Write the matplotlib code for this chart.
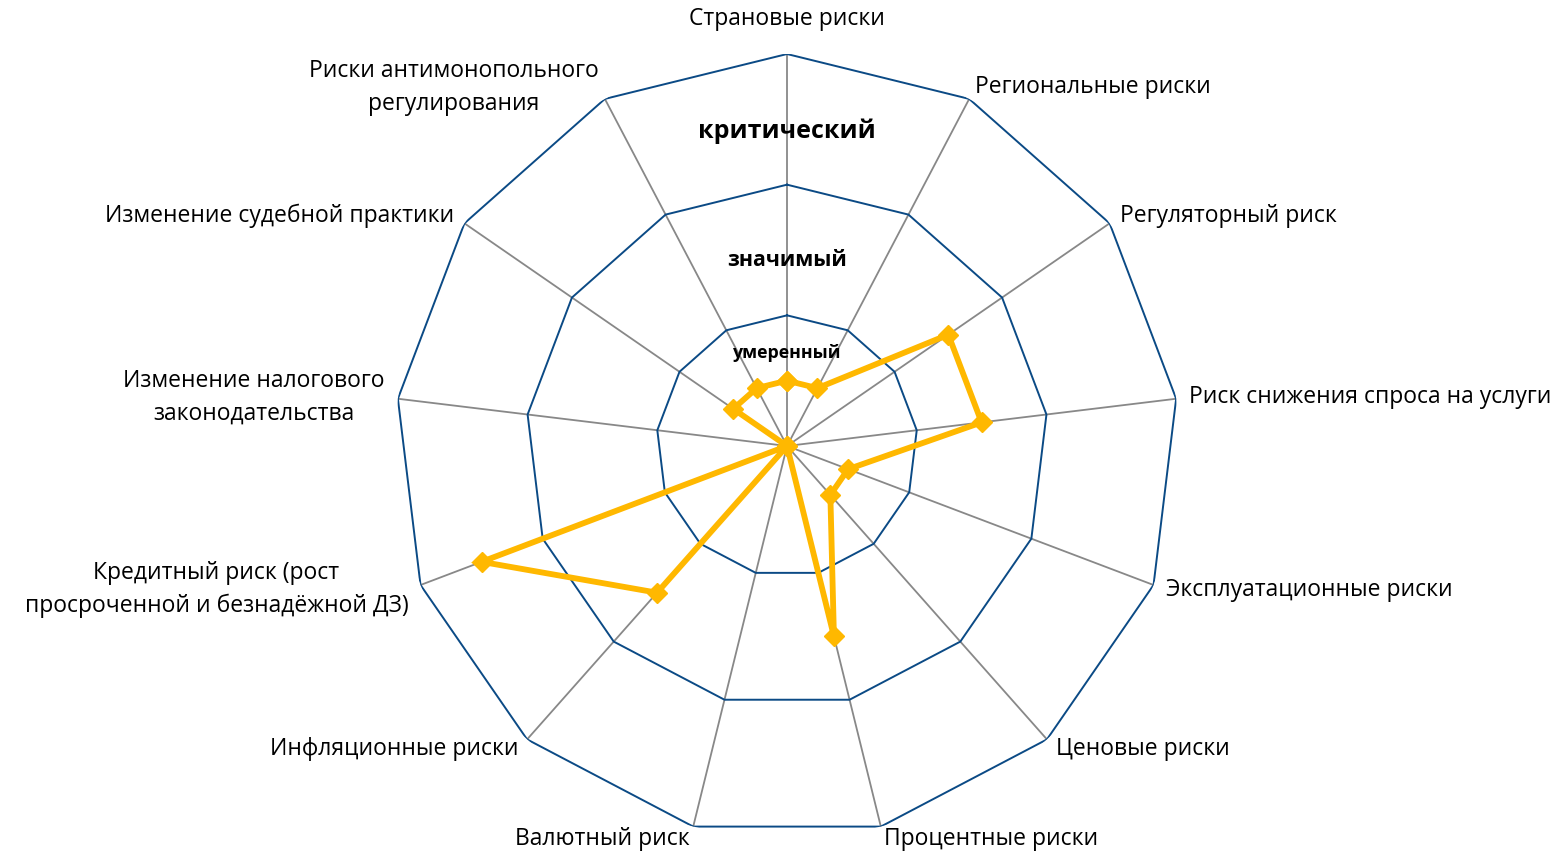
import numpy as np
import matplotlib
matplotlib.use("Agg")
import matplotlib.pyplot as plt

plt.rcParams['font.family'] = ['Open Sans', 'DejaVu Sans']

categories = [
    'Страновые риски',
    'Региональные риски',
    'Регуляторный риск',
    'Риск снижения спроса на услуги',
    'Эксплуатационные риски',
    'Ценовые риски',
    'Процентные риски',
    'Валютный риск',
    'Инфляционные риски',
    'Кредитный риск (рост\nпросроченной и безнадёжной ДЗ)',
    'Изменение налогового\nзаконодательства',
    'Изменение судебной практики',
    'Риски антимонопольного\nрегулирования',
]
values = [0.5, 0.5, 1.5, 1.5, 0.5, 0.5, 1.5, 0, 1.5, 2.5, 0, 0.5, 0.5]
levels = [1, 2, 3]
level_names = ['умеренный', 'значимый', 'критический']

n = len(categories)
theta = np.arange(n) * 2 * np.pi / n

fig = plt.figure(figsize=(15.67, 8.6), dpi=100)
ax = fig.add_axes([0.2521, 0.0256, 0.5003, 0.9116], projection='polar')
ax.set_theta_offset(np.pi / 2)
ax.set_theta_direction(-1)
ax.set_ylim(0, 3)
ax.axis('off')

# spokes
for t in theta:
    ax.plot([t, t], [0, 3], color='#888888', lw=1.3, zorder=1)
# polygon rings
tc = np.append(theta, theta[0])
for lv in levels:
    ax.plot(tc, [lv] * (n + 1), color='#0B4A85', lw=1.4, zorder=2)

# data
vc = values + values[:1]
ax.plot(tc, vc, color='#FFB800', lw=4.2, marker='D', markersize=10,
        markeredgecolor='#FFB800', zorder=5, solid_joinstyle='miter')

# category labels
for i, (t, lab) in enumerate(zip(theta, categories)):
    if i == 0:
        ax.text(t, 3.27, lab, ha='center', va='center', fontsize=16.5)
        continue
    ha = 'left' if np.sin(t) > 0 else 'right'
    ax.text(t, 3.1, lab, ha=ha, va='center', fontsize=16.5,
            multialignment='center', linespacing=1.5)

# level names
ax.text(0, 0.71, level_names[0], ha='center', va='center', fontsize=12.8, fontweight='bold')
ax.text(0, 1.42, level_names[1], ha='center', va='center', fontsize=15.4, fontweight='bold')
ax.text(0, 2.41, level_names[2], ha='center', va='center', fontsize=18, fontweight='bold')

fig.savefig('out.png', dpi=100)
